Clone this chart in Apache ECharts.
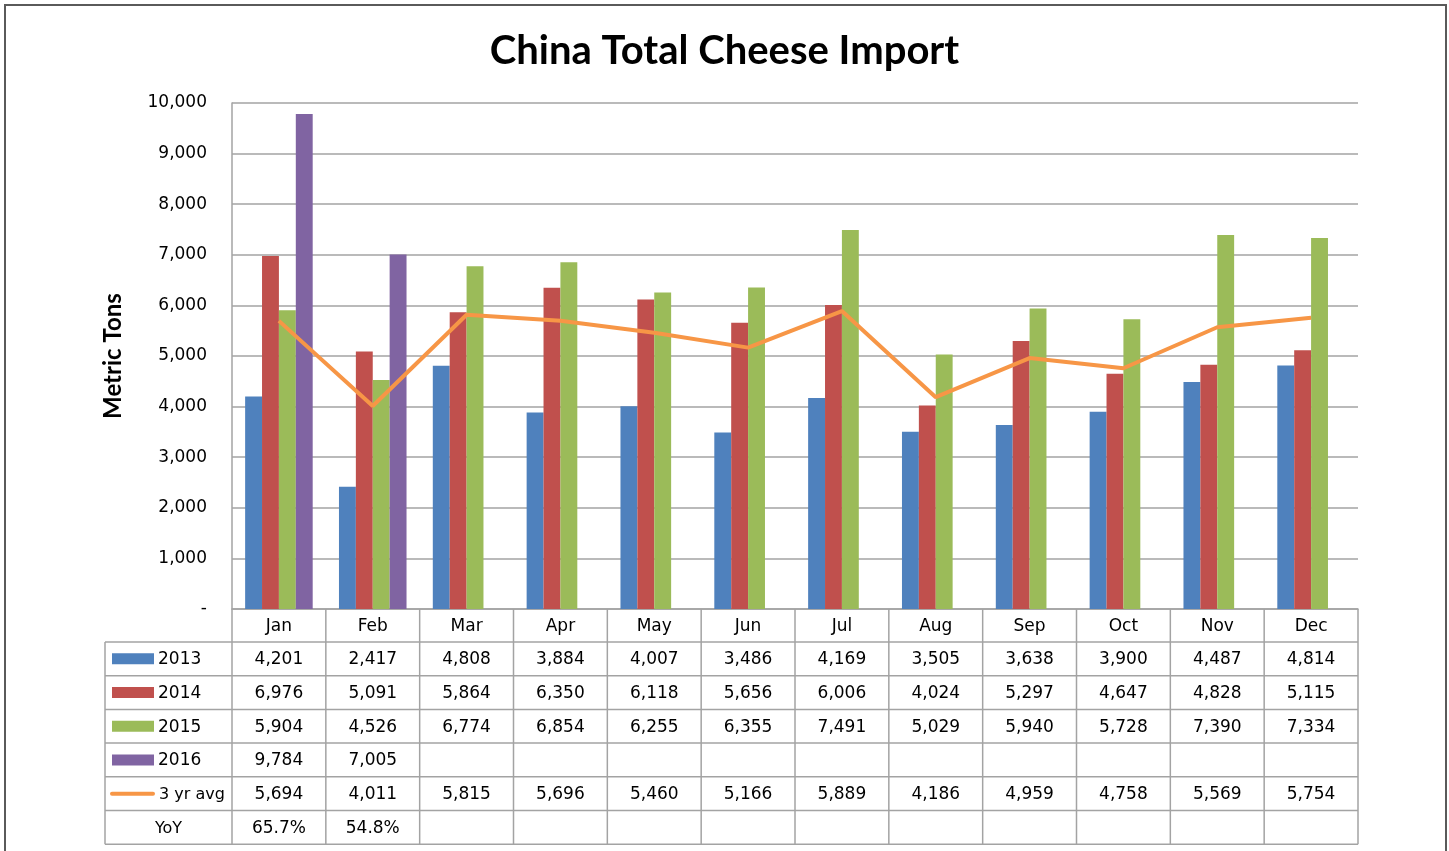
<!DOCTYPE html>
<html><head><meta charset="utf-8">
<script src="https://cdn.jsdelivr.net/npm/echarts@6/dist/echarts.min.js"></script>
<style>html,body{margin:0;padding:0;background:#fff}#c{width:1449px;height:851px}</style>
</head><body><div id="c"></div>
<script>
// ---- data ----
const months = ['Jan','Feb','Mar','Apr','May','Jun','Jul','Aug','Sep','Oct','Nov','Dec'];
const y2013 = [4201,2417,4808,3884,4007,3486,4169,3505,3638,3900,4487,4814];
const y2014 = [6976,5091,5864,6350,6118,5656,6006,4024,5297,4647,4828,5115];
const y2015 = [5904,4526,6774,6854,6255,6355,7491,5029,5940,5728,7390,7334];
const y2016 = [9784,7005,null,null,null,null,null,null,null,null,null,null];
const avg3  = [5694,4011,5815,5696,5460,5166,5889,4186,4959,4758,5569,5754];
const yoy   = [65.7,54.8,null,null,null,null,null,null,null,null,null,null];
const yTicks = [0,1000,2000,3000,4000,5000,6000,7000,8000,9000,10000];

// ---- styles / layout ----
const COLORS = {'2013':'#4F81BD','2014':'#C0504D','2015':'#9BBB59','2016':'#8064A2','3 yr avg':'#F79646'};
const NUM_FONT = 'DejaVu Sans';
const TITLE_FONT = 'Lato';
const TEXT_COLOR = '#000';
const LINE_GRAY = '#a3a3a3';
const LAY = {gridLeft:232, gridRight:1358, gridTop:103, gridBottom:609, tableLeft:105, headerH:33, rowH:33.7};

const fmt = v => v == null ? '' : v.toLocaleString('en-US');

const chart = echarts.init(document.getElementById('c'));
const option = {
  backgroundColor:'#fff',
  animation:false,
  title:{text:'China Total Cheese Import', left:'center', top:26,
    textStyle:{fontFamily:TITLE_FONT, fontWeight:'bold', fontSize:40, color:'#000'}},
  grid:{left:LAY.gridLeft, right:1449-LAY.gridRight, top:LAY.gridTop, bottom:851-LAY.gridBottom, containLabel:false},
  xAxis:{type:'category', data:months, boundaryGap:true,
    axisLine:{show:true, lineStyle:{color:LINE_GRAY, width:1.5}},
    axisTick:{show:false},
    axisLabel:{show:true, margin:8, fontFamily:NUM_FONT, fontSize:17, lineHeight:20, color:TEXT_COLOR}},
  yAxis:{type:'value', min:yTicks[0], max:yTicks[yTicks.length-1], interval:1000,
    name:'Metric Tons', nameLocation:'middle', nameRotate:90, nameGap:107,
    nameTextStyle:{fontFamily:TITLE_FONT, fontWeight:'bold', fontSize:24, color:'#000'},
    axisLine:{show:true, lineStyle:{color:LINE_GRAY, width:1.5}},
    axisTick:{show:false},
    splitLine:{lineStyle:{color:LINE_GRAY, width:1.5}},
    axisLabel:{margin:25, fontFamily:NUM_FONT, fontSize:17, color:TEXT_COLOR,
      formatter:v => v === 0 ? '-' : v.toLocaleString('en-US')}},
  series:[
    {name:'2013', type:'bar', data:y2013, itemStyle:{color:COLORS['2013']}, barGap:'0%', barCategoryGap:'28%'},
    {name:'2014', type:'bar', data:y2014, itemStyle:{color:COLORS['2014']}},
    {name:'2015', type:'bar', data:y2015, itemStyle:{color:COLORS['2015']}},
    {name:'2016', type:'bar', data:y2016, itemStyle:{color:COLORS['2016']}},
    {name:'3 yr avg', type:'line', data:avg3, showSymbol:false, symbol:'none', z:5,
      lineStyle:{color:COLORS['3 yr avg'], width:4}, itemStyle:{color:COLORS['3 yr avg']}}
  ]
};
chart.setOption(option);

// ---- data table (built from the arrays, positioned by the category axis) ----
const rows = [
  {label:'2013', vals:y2013.map(fmt), key:'bar'},
  {label:'2014', vals:y2014.map(fmt), key:'bar'},
  {label:'2015', vals:y2015.map(fmt), key:'bar'},
  {label:'2016', vals:y2016.map(fmt), key:'bar'},
  {label:'3 yr avg', vals:avg3.map(fmt), key:'line'},
  {label:'YoY', vals:yoy.map(v => v == null ? '' : v.toFixed(1) + '%'), key:'none'}
];
const els = [];
const colW = (LAY.gridRight - LAY.gridLeft) / months.length;
const headTop = LAY.gridBottom;
const bodyTop = headTop + LAY.headerH;
const tableBottom = bodyTop + rows.length * LAY.rowH;
const rowY = r => bodyTop + r * LAY.rowH;
const ln = (x1,y1,x2,y2) => els.push({type:'line', silent:true, z:10,
  shape:{x1,y1,x2,y2}, style:{stroke:LINE_GRAY, lineWidth:1.5}});
// horizontal lines
for (let r = 0; r <= rows.length; r++) ln(LAY.tableLeft, rowY(r), LAY.gridRight, rowY(r));
// vertical lines
ln(LAY.tableLeft, bodyTop, LAY.tableLeft, tableBottom);
for (let i = 0; i <= months.length; i++) {
  const x = LAY.gridLeft + i * colW;
  ln(x, headTop, x, tableBottom);
}
// cells
rows.forEach((row, r) => {
  const cy = rowY(r) + LAY.rowH / 2 + 1;
  months.forEach((m, i) => {
    const cx = chart.convertToPixel({xAxisIndex:0}, i);
    if (row.vals[i]) els.push({type:'text', silent:true, z:11, x:cx, y:cy,
      style:{text:row.vals[i], align:'center', verticalAlign:'middle', fontFamily:NUM_FONT, fontSize:17, fill:TEXT_COLOR}});
  });
  if (row.key === 'bar') {
    els.push({type:'rect', silent:true, z:11, shape:{x:112, y:cy-6.5, width:42, height:11}, style:{fill:COLORS[row.label]}});
    els.push({type:'text', silent:true, z:11, x:158, y:cy,
      style:{text:row.label, align:'left', verticalAlign:'middle', fontFamily:NUM_FONT, fontSize:17, fill:TEXT_COLOR}});
  } else if (row.key === 'line') {
    els.push({type:'line', silent:true, z:11, shape:{x1:112, y1:cy-1, x2:153, y2:cy-1},
      style:{stroke:COLORS[row.label], lineWidth:4, lineCap:'round'}});
    els.push({type:'text', silent:true, z:11, x:159, y:cy,
      style:{text:row.label, align:'left', verticalAlign:'middle', fontFamily:NUM_FONT, fontSize:16, fill:TEXT_COLOR}});
  } else {
    els.push({type:'text', silent:true, z:11, x:(LAY.tableLeft + LAY.gridLeft) / 2, y:cy,
      style:{text:row.label, align:'center', verticalAlign:'middle', fontFamily:NUM_FONT, fontSize:16, fill:TEXT_COLOR}});
  }
});
// outer chart border
els.push({type:'rect', silent:true, z:0, shape:{x:5, y:5, width:1441, height:880},
  style:{fill:null, stroke:'#5a5a5a', lineWidth:2}});
chart.setOption({graphic:els});
</script>
</body></html>
